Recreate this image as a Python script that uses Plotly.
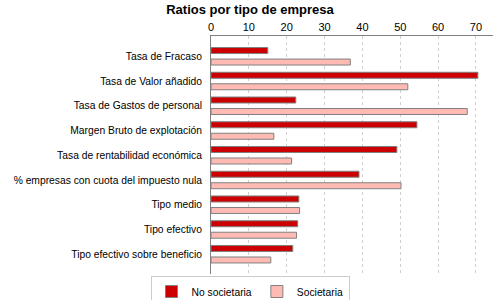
import plotly.graph_objects as go

categories = [
    "Tasa de Fracaso",
    "Tasa de Valor añadido",
    "Tasa de Gastos de personal",
    "Margen Bruto de explotación",
    "Tasa de rentabilidad económica",
    "% empresas con cuota del impuesto nula",
    "Tipo medio",
    "Tipo efectivo",
    "Tipo efectivo sobre beneficio",
]
no_societaria = [15.0, 70.5, 22.4, 54.4, 49.1, 39.1, 23.2, 22.9, 21.6]
societaria = [36.8, 52.0, 67.7, 16.6, 21.3, 50.2, 23.4, 22.6, 15.8]
x_ticks = [0, 10, 20, 30, 40, 50, 60, 70]

FONT = "Liberation Sans, Arial, sans-serif"

fig = go.Figure()
fig.add_trace(go.Bar(
    y=categories, x=no_societaria, orientation="h", name="No societaria",
    marker=dict(color="#CC0000", line=dict(color="#808080", width=1)),
))
fig.add_trace(go.Bar(
    y=categories, x=societaria, orientation="h", name="Societaria",
    marker=dict(color="#FFBBB3", line=dict(color="#808080", width=1)),
))

fig.update_layout(
    width=500, height=300,
    margin=dict(l=211, r=7, t=36, b=26, pad=0, autoexpand=False),
    paper_bgcolor="white", plot_bgcolor="white",
    font=dict(family=FONT, size=10, color="#000000"),
    title=dict(text="<b>Ratios por tipo de empresa</b>", x=0.5, xanchor="center",
               xref="container", y=0.97, yanchor="middle", yref="container",
               font=dict(family=FONT, size=13, color="#000000"), automargin=False),
    barmode="group", bargap=0.07, bargroupgap=0.48,
    showlegend=True,
    legend=dict(orientation="h", x=0.5, xanchor="center", xref="container",
                y=0.08, yanchor="top", yref="container",
                bordercolor="#CCCCCC", borderwidth=1, bgcolor="white",
                font=dict(family=FONT, size=10.3), itemwidth=30,
                tracegroupgap=0, traceorder="normal"),
    xaxis=dict(side="top", range=[0, 74.5], tickvals=x_ticks, automargin=False,
               showgrid=True, gridcolor="#D0D0D0", griddash="3px,3px", gridwidth=1,
               showline=True, linecolor="#808080", linewidth=1,
               ticks="", zeroline=False, tickfont=dict(size=11)),
    yaxis=dict(type="category", categoryorder="array", categoryarray=categories,
               range=[8.8, -0.82], showgrid=False, automargin=False,
               showline=True, linecolor="#808080", linewidth=1,
               ticks="", ticklabelstandoff=6, tickfont=dict(size=10.3)),
)

fig.write_html("out.html", config={"displayModeBar": False},
               post_script="document.body.style.margin='0';document.body.style.padding='0';")
